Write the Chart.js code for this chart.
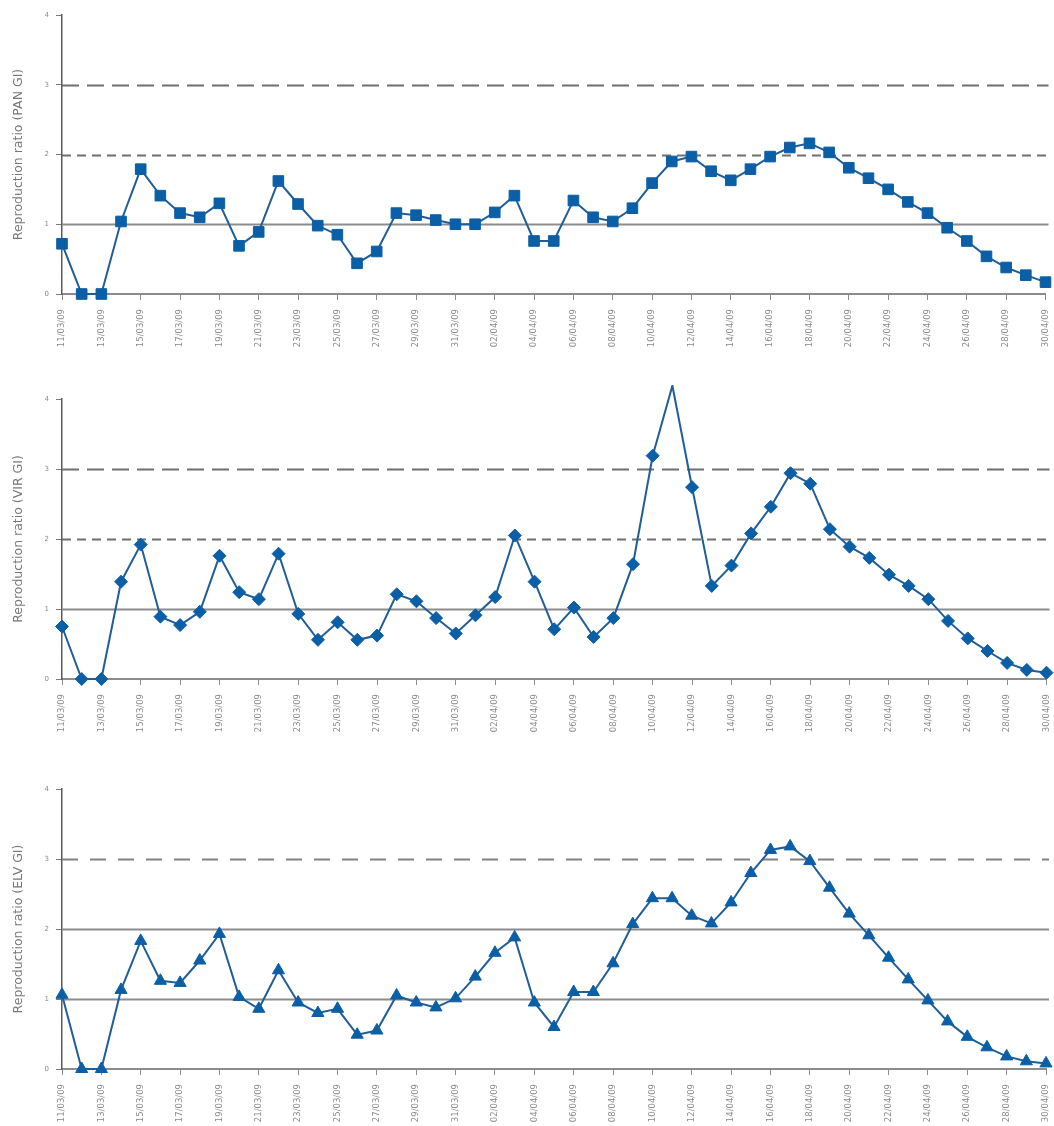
<!DOCTYPE html>
<html>
<head>
<meta charset="utf-8">
<script src="https://cdn.jsdelivr.net/npm/chart.js@4/dist/chart.umd.min.js"></script>
<style>
  html, body { margin: 0; padding: 0; background: #fff; overflow: hidden; }
  body { width: 1054px; height: 1126px; position: relative; }
  .panel { position: absolute; left: 0; width: 1054px; }
  canvas { display: block; }
</style>
</head>
<body>
<div class="panel" style="top:0;height:385px"><canvas id="pan" width="1054" height="385"></canvas></div>
<div class="panel" style="top:385px;height:390px"><canvas id="vir" width="1054" height="390"></canvas></div>
<div class="panel" style="top:775px;height:390px"><canvas id="elv" width="1054" height="390"></canvas></div>
<script>
// Daily dates, 11 March to 30 April 2009
const dayLabels = [
  '11/03/09','12/03/09','13/03/09','14/03/09','15/03/09','16/03/09','17/03/09','18/03/09',
  '19/03/09','20/03/09','21/03/09','22/03/09','23/03/09','24/03/09','25/03/09','26/03/09',
  '27/03/09','28/03/09','29/03/09','30/03/09','31/03/09','01/04/09','02/04/09','03/04/09',
  '04/04/09','05/04/09','06/04/09','07/04/09','08/04/09','09/04/09','10/04/09','11/04/09',
  '12/04/09','13/04/09','14/04/09','15/04/09','16/04/09','17/04/09','18/04/09','19/04/09',
  '20/04/09','21/04/09','22/04/09','23/04/09','24/04/09','25/04/09','26/04/09','27/04/09',
  '28/04/09','29/04/09','30/04/09'
];

// Reproduction ratio estimates per consultation type
const panValues = [0.72,0,0,1.04,1.79,1.41,1.16,1.10,1.30,0.69,0.89,1.62,1.29,0.98,0.85,0.44,0.61,1.16,1.13,1.06,1.00,1.00,1.17,1.41,0.76,0.76,1.34,1.10,1.04,1.23,1.59,1.90,1.97,1.76,1.63,1.79,1.97,2.10,2.16,2.03,1.81,1.66,1.50,1.32,1.16,0.95,0.76,0.54,0.38,0.27,0.17];
const virValues = [0.75,0,0,1.39,1.92,0.89,0.77,0.96,1.76,1.24,1.14,1.79,0.93,0.56,0.81,0.56,0.62,1.21,1.11,0.87,0.65,0.91,1.17,2.05,1.39,0.71,1.02,0.60,0.87,1.64,3.19,4.19,2.74,1.33,1.62,2.08,2.46,2.94,2.79,2.14,1.89,1.73,1.49,1.33,1.14,0.83,0.58,0.40,0.23,0.13,0.09];
const elvValues = [1.06,0,0,1.13,1.83,1.26,1.23,1.55,1.93,1.03,0.86,1.41,0.95,0.80,0.86,0.49,0.55,1.05,0.95,0.88,1.01,1.32,1.66,1.88,0.95,0.60,1.10,1.10,1.51,2.07,2.44,2.44,2.19,2.08,2.38,2.80,3.13,3.18,2.97,2.59,2.22,1.91,1.59,1.28,0.98,0.68,0.46,0.31,0.18,0.11,0.08];

// Reference levels of the ratio and y tick values
const ratioLevels = [1, 2, 3];
const yTicks = [0, 1, 2, 3, 4];

const solidStyle = { dash: [], color: '#8c8c8c', width: 2 };
const shortDash = { dash: [9, 6], color: '#6f6f6f', width: 2 };
const longDash = { dash: [17, 8], color: '#6f6f6f', width: 2 };
const longDashLight = { dash: [16, 12], color: '#808080', width: 2 };

// Draws horizontal reference lines at the given ratio levels
const levelLines = {
  id: 'levelLines',
  beforeDatasetsDraw(chart, args, opts) {
    const { ctx, chartArea, scales } = chart;
    ratioLevels.forEach((v, i) => {
      const st = opts.styles[i];
      const y = Math.round(scales.y.getPixelForValue(v)) + 0.5;
      ctx.save();
      ctx.strokeStyle = st.color;
      ctx.lineWidth = st.width;
      ctx.setLineDash(st.dash);
      ctx.beginPath();
      ctx.moveTo(chartArea.left, y);
      ctx.lineTo(chartArea.right + 3, y);
      ctx.stroke();
      ctx.restore();
    });
  }
};

const FONT = "'DejaVu Sans', Verdana, sans-serif";

function makeChart(id, values, title, pointStyle, radius, styles, topPad, xHeight) {
  new Chart(document.getElementById(id), {
    type: 'line',
    data: {
      labels: dayLabels,
      datasets: [{
        data: values,
        borderColor: '#215d97',
        borderWidth: 2,
        backgroundColor: '#0b5fa6',
        pointBackgroundColor: '#0b5fa6',
        pointBorderColor: '#0b5fa6',
        pointBorderWidth: 1,
        pointStyle: pointStyle,
        pointRadius: radius,
        pointHoverRadius: radius,
        tension: 0,
        clip: false
      }]
    },
    options: {
      responsive: false,
      animation: false,
      devicePixelRatio: 1,
      events: [],
      layout: { padding: { top: topPad, right: 6, left: 0, bottom: 0 } },
      plugins: {
        legend: { display: false },
        tooltip: { enabled: false },
        levelLines: { styles: styles }
      },
      scales: {
        x: {
          type: 'category',
          offset: false,
          afterFit(scale) {
            scale.height = xHeight;
            scale.paddingLeft = 0;
            scale.paddingRight = 0;
          },
          grid: {
            drawOnChartArea: false,
            drawTicks: true,
            tickLength: 6,
            tickColor: '#8c8c8c',
            tickWidth: 1
          },
          border: { display: true, color: '#8c8c8c', width: 2 },
          ticks: {
            autoSkip: false,
            minRotation: 90,
            maxRotation: 90,
            padding: 9,
            color: '#8a8a8a',
            font: { family: FONT, size: 8.5 },
            callback(val, idx) { return idx % 2 === 0 ? dayLabels[idx] : null; }
          }
        },
        y: {
          min: 0,
          max: 4,
          afterFit(scale) { scale.width = 62; },
          afterBuildTicks(scale) { scale.ticks = yTicks.map(v => ({ value: v })); },
          grid: {
            drawOnChartArea: false,
            drawTicks: true,
            tickLength: 6,
            tickColor: '#7a7a7a',
            tickWidth: 1
          },
          border: { display: true, color: '#5a5a5a', width: 1.5 },
          ticks: {
            padding: 7,
            color: '#8a8a8a',
            font: { family: FONT, size: 7 }
          },
          title: {
            display: true,
            text: title,
            color: '#777777',
            font: { family: FONT, size: 12.5 },
            padding: { top: 11, bottom: 0 }
          }
        }
      }
    },
    plugins: [levelLines]
  });
}

makeChart('pan', panValues, 'Reproduction ratio (PAN GI)', 'rect', 7.5, [solidStyle, shortDash, longDash], 15, 91);
makeChart('vir', virValues, 'Reproduction ratio (VIR GI)', 'rectRot', 6.5, [solidStyle, shortDash, longDash], 14, 96);
makeChart('elv', elvValues, 'Reproduction ratio (ELV GI)', 'triangle', 7, [solidStyle, solidStyle, longDashLight], 14, 96);
</script>
</body>
</html>
